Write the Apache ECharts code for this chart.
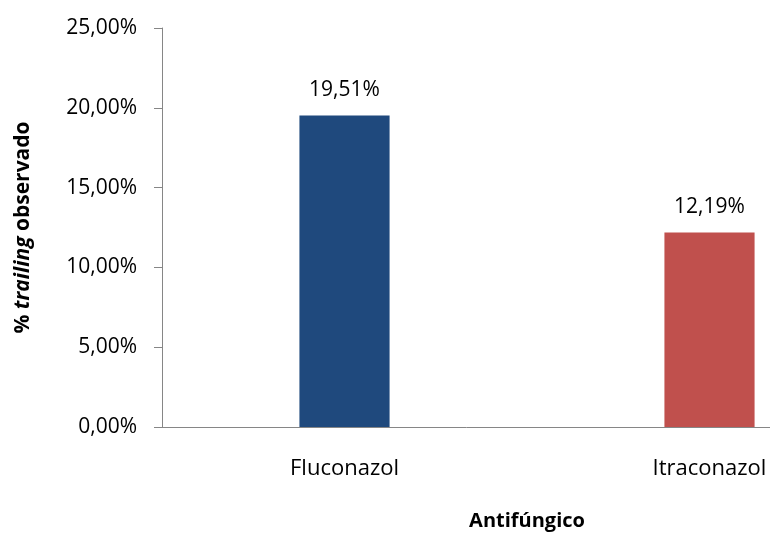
<!DOCTYPE html>
<html>
<head>
<meta charset="utf-8">
<script src="https://cdn.jsdelivr.net/npm/echarts@6/dist/echarts.min.js"></script>
<style>
  html, body { margin: 0; padding: 0; background: #fff; }
  #chart { width: 770px; height: 533px; }
</style>
</head>
<body>
<div id="chart"></div>
<script>
// data
var categories = ['Fluconazol', 'Itraconazol'];
var trailingPct = [19.51, 12.19];
var barColors = ['#1F497D', '#C0504D'];

var fontFamily = '"Open Sans", "Noto Sans", sans-serif';

function pct(v) {
  return v.toFixed(2).replace('.', ',') + '%';
}

var chart = echarts.init(document.getElementById('chart'));
chart.setOption({
  animation: false,
  textStyle: { fontFamily: fontFamily },
  // the second category is cut by the right edge in the original, so the grid runs past it
  grid: {
    left: 162,
    width: 730,
    top: 28,
    height: 399,
    containLabel: false,
    outerBoundsMode: 'none'
  },
  xAxis: {
    type: 'category',
    data: categories,
    name: 'Antifúngico',
    nameLocation: 'middle',
    nameGap: 84,
    nameTextStyle: {
      fontFamily: fontFamily,
      fontSize: 20,
      fontWeight: 'bold',
      color: '#000'
    },
    axisLine: { lineStyle: { color: '#868686', width: 1 } },
    axisTick: { show: false },
    axisLabel: {
      margin: 31,
      fontSize: 22,
      color: '#000',
      fontFamily: fontFamily
    }
  },
  yAxis: {
    type: 'value',
    min: 0,
    max: 25,
    interval: 5,
    name: '{p|% }{i|trailing}{p| observado}',
    nameLocation: 'middle',
    nameGap: 128,
    nameRotate: 90,
    nameTextStyle: {
      rich: {
        p: { fontFamily: fontFamily, fontSize: 21, fontWeight: 'bold', color: '#000' },
        i: { fontFamily: fontFamily, fontSize: 21, fontWeight: 'bold', fontStyle: 'italic', color: '#000' }
      }
    },
    axisLine: { show: true, lineStyle: { color: '#868686', width: 1 } },
    axisTick: { show: true, length: 8, lineStyle: { color: '#868686' } },
    splitLine: { show: false },
    axisLabel: {
      margin: 25,
      fontSize: 21,
      color: '#000',
      fontFamily: fontFamily,
      formatter: pct
    }
  },
  series: [{
    type: 'bar',
    barWidth: '24.7%',
    data: trailingPct.map(function (v, i) {
      return { value: v, itemStyle: { color: barColors[i] } };
    }),
    label: {
      show: true,
      position: 'top',
      distance: 15,
      fontSize: 21,
      color: '#000',
      fontFamily: fontFamily,
      formatter: function (p) { return pct(p.value); }
    }
  }]
});
</script>
</body>
</html>
